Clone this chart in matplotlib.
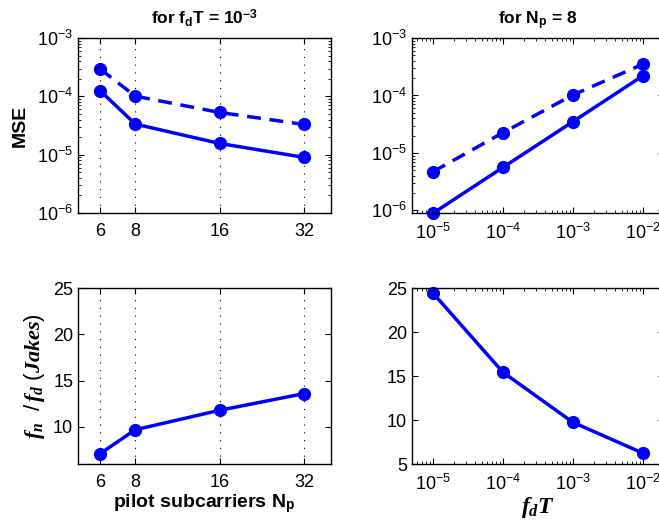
import matplotlib.pyplot as plt
from matplotlib.ticker import FixedLocator, NullFormatter

plt.rcParams['font.family'] = 'Liberation Sans'
plt.rcParams['mathtext.fontset'] = 'custom'
plt.rcParams['mathtext.rm'] = 'Liberation Sans'
plt.rcParams['mathtext.it'] = 'Liberation Serif:italic:bold'
plt.rcParams['mathtext.bf'] = 'Liberation Sans:bold'

# data
pilots = [6, 8, 16, 32]
mse_pilot_solid = [1.25e-4, 3.35e-5, 1.56e-5, 9.0e-6]
mse_pilot_dashed = [2.94e-4, 1.01e-4, 5.3e-5, 3.3e-5]
jakes_pilot = [7.12, 9.7, 11.8, 13.6]

fdt = [1e-5, 1e-4, 1e-3, 1e-2]
mse_fdt_solid = [8.9e-7, 5.6e-6, 3.5e-5, 2.2e-4]
mse_fdt_dashed = [4.7e-6, 2.25e-5, 1.02e-4, 3.5e-4]
jakes_fdt = [24.43, 15.43, 9.74, 6.24]

blue = (0, 0, 1)
line_kw = dict(color=blue, lw=2.5, marker='o', ms=8.5, clip_on=False)

fig = plt.figure(figsize=(6.59, 5.27), dpi=100)
ax1 = fig.add_axes([0.1184, 0.5958, 0.384, 0.332])
ax2 = fig.add_axes([0.625, 0.5958, 0.3824, 0.332])
ax3 = fig.add_axes([0.1184, 0.1195, 0.384, 0.334])
ax4 = fig.add_axes([0.625, 0.1195, 0.3824, 0.334])

def style(ax):
   ax.tick_params(which='both', direction='in', top=True, right=True, labelsize=13)
   ax.tick_params(which='major', length=4)
   ax.tick_params(which='minor', length=2)
   ax.tick_params(axis='x', which='major', pad=7)
   for s in ax.spines.values():
      s.set_linewidth(1.0)

##left column: pilot subcarriers
for ax in (ax1, ax3):
   ax.set_xscale('log')
   ax.set_xlim(5, 40)
   ax.xaxis.set_major_locator(FixedLocator(pilots))
   ax.set_xticklabels([str(p) for p in pilots])
   ax.xaxis.set_minor_formatter(NullFormatter())
   ax.xaxis.set_minor_locator(FixedLocator([]))
   ax.grid(True, axis='x', linestyle=(0, (1, 6)), color='k', lw=0.8)

ax1.plot(pilots, mse_pilot_dashed, ls=(0, (4, 2.5)), **line_kw)
ax1.plot(pilots, mse_pilot_solid, ls='-', **line_kw)
ax1.set_yscale('log')
ax1.set_ylim(1e-6, 1e-3)
ax1.set_ylabel('MSE', fontsize=14, fontweight='bold', labelpad=6)
ax1.set_title(r'for f$_\mathbf{d}$T = 10$^\mathbf{-3}$', fontsize=12.5, fontweight='bold', pad=10)

ax3.plot(pilots, jakes_pilot, ls='-', **line_kw)
ax3.set_ylim(6, 25)
ax3.set_yticks([10, 15, 20, 25])
ax3.set_ylabel(r'$f_n\ \ /\,f_d\ (Jakes)$', fontsize=16, labelpad=4)
ax3.set_xlabel(r'pilot subcarriers N$_\mathbf{p}$', fontsize=14, fontweight='bold', labelpad=1)

##right column: normalised doppler
for ax in (ax2, ax4):
   ax.set_xscale('log')
   ax.set_xlim(5e-6, 2e-2)
   ax.xaxis.set_major_locator(FixedLocator(fdt))

ax2.plot(fdt, mse_fdt_dashed, ls=(0, (4, 2.5)), **line_kw)
ax2.plot(fdt, mse_fdt_solid, ls='-', **line_kw)
ax2.set_yscale('log')
ax2.set_ylim(9e-7, 1e-3)
ax2.yaxis.set_major_locator(FixedLocator([1e-6, 1e-5, 1e-4, 1e-3]))
ax2.set_title(r'for N$_\mathbf{p}$ = 8', fontsize=12.5, fontweight='bold', pad=10)

ax4.plot(fdt, jakes_fdt, ls='-', **line_kw)
ax4.set_ylim(5, 25)
ax4.set_yticks([5, 10, 15, 20, 25])
ax4.set_xlabel(r'$f_dT$', fontsize=17, labelpad=1)

for ax in (ax1, ax2, ax3, ax4):
   style(ax)

fig.savefig('out.png', dpi=100)
